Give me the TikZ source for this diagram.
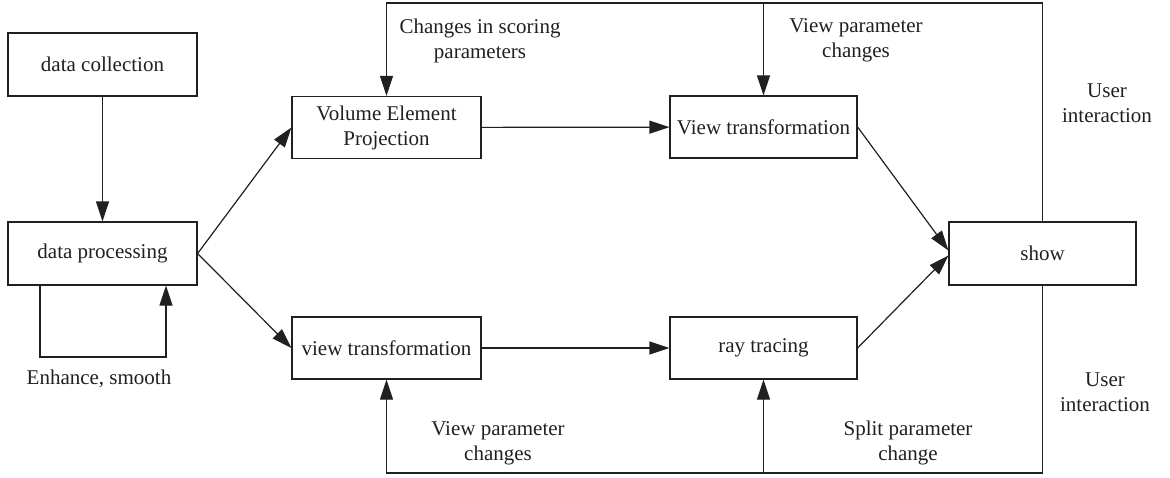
\documentclass[tikz,border=0pt]{standalone}
\usepackage{fontspec}
\setmainfont{Liberation Serif}
\usepackage{xcolor}
\usepackage{tikz}
\usetikzlibrary{arrows.meta,shapes}
\definecolor{ink}{HTML}{231F20}

\begin{document}
\begin{tikzpicture}[x=0.5pt,y=-0.5pt,>={Triangle[length=10pt,width=6.5pt]},
  color=ink,line width=0.6pt,
  every node/.style={font=\fontsize{10.5}{12.5}\selectfont},
  box/.style={draw,rectangle,inner sep=0pt,minimum width=94.5pt,minimum height=31pt,align=center},
  lbl/.style={align=center}]
\useasboundingbox (0,0) rectangle (1170,477);
\node[box,minimum height=31.5pt](coll) at (102.5,64.5){data collection};
\node[box,minimum height=31.5pt](proc) at (102.5,253.5){data processing};
\node[box](vep) at (386.5,127.5){Volume Element\\Projection};
\node[box,minimum width=93.5pt](vtup) at (763.5,127){View transformation};
\node[box,minimum width=93.5pt,minimum height=31.5pt](show) at (1042.5,253.5){show};
\node[box](vtlow) at (386.5,348){view transformation};
\node[box,minimum width=93.5pt](ray) at (763.5,348){ray tracing};
\draw[->](coll)--(proc);
\draw[->](proc.east)--(vep.west);
\draw[->](proc.east)--(vtlow.west);
\draw[->](vep)--(vtup);
\draw[->](vtlow)--(ray);
\draw[->](vtup.east)--([yshift=1.5pt]show.west);
\draw[->](ray.east)--([yshift=-1pt]show.west);
% enhance/smooth loop under the processing box
\coordinate(lpl) at (40,357);
\coordinate(lpr) at (166,357);
\draw[->](proc.south-|lpl)--(lpl)--(lpr)--(proc.south-|lpr);
\node[lbl](enh) at (99,379){Enhance, smooth};
% user interaction, top
\coordinate(tr) at (1043,3);
\draw[->](show.north)--(show.north|-tr)-|(vep.north);
\draw[->](vtup.north|-tr)--(vtup.north);
\node[lbl](chg) at (480,40.5){Changes in scoring\\parameters};
\node[lbl](vpc) at (856,40.5){View parameter\\changes};
\node[lbl](ui1) at (1107,103.5){User\\interaction};
% user interaction, bottom
\coordinate(br) at (1043,473);
\draw[->](show.south)--(show.south|-br)-|(vtlow.south);
\draw[->](ray.south|-br)--(ray.south);
\node[lbl](vpc2) at (498,443){View parameter\\changes};
\node[lbl](spc) at (908,443){Split parameter\\change};
\node[lbl](ui2) at (1105,392.5){User\\interaction};
\end{tikzpicture}
\end{document}
